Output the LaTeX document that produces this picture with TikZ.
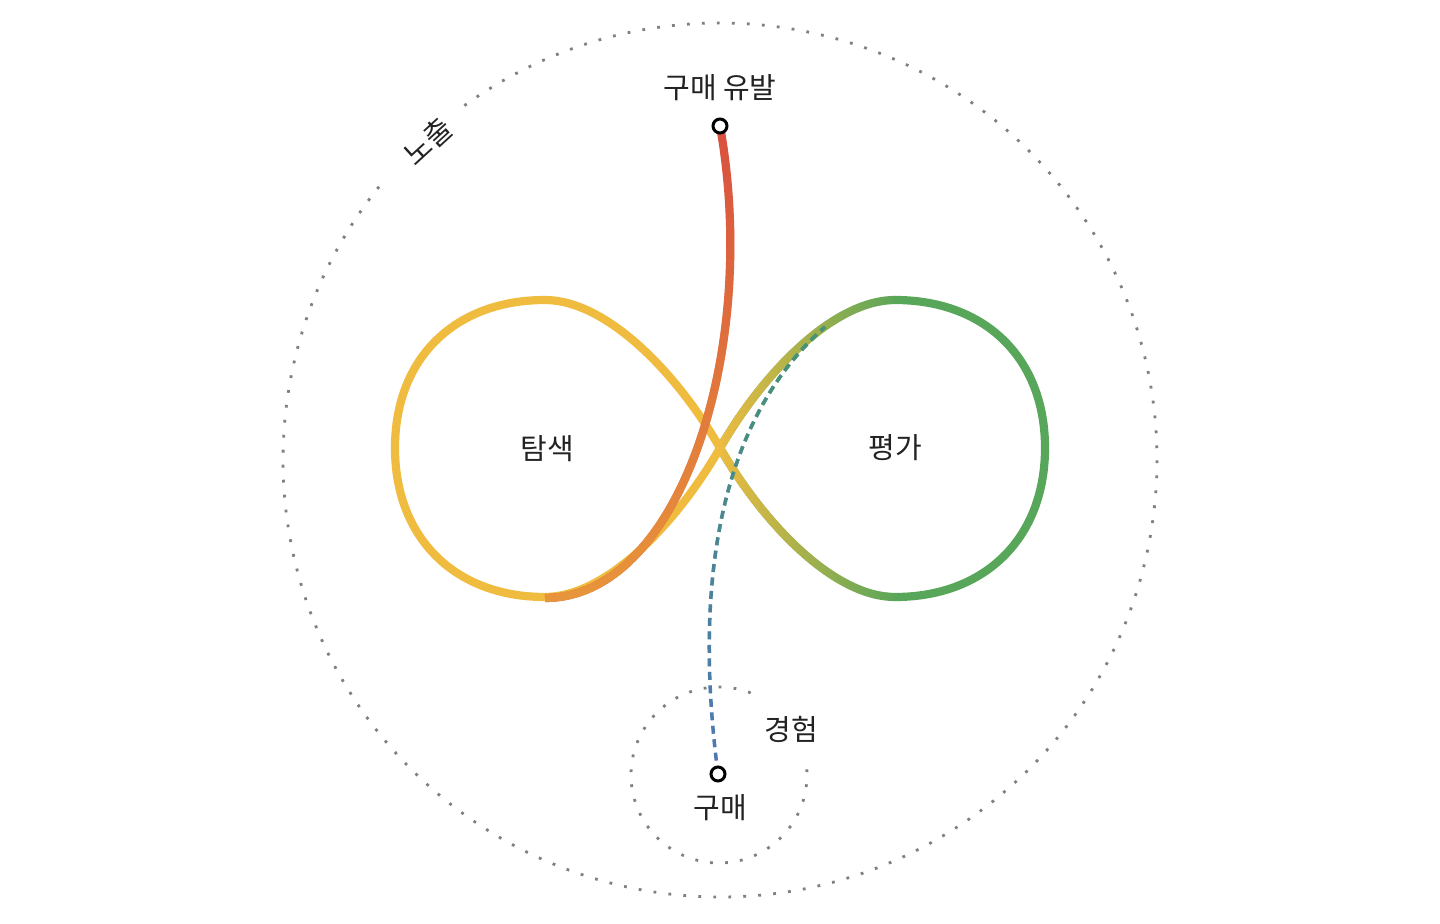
\documentclass[tikz,border=0pt]{standalone}
\usepackage{fontspec}
\setmainfont{Noto Sans CJK KR}
\usetikzlibrary{fadings}
\definecolor{amarillo}{HTML}{F0BC40}
\definecolor{verde}{HTML}{57A65A}
\definecolor{rojo}{HTML}{D95040}
\definecolor{naranja}{HTML}{E8963A}
\definecolor{azul}{HTML}{5076B8}
\definecolor{verdeazul}{HTML}{46966E}
\definecolor{gris}{HTML}{808080}
\definecolor{texto}{HTML}{222222}
\tikzfading[name=fadeverde, left color=transparent!0, middle color=transparent!77, right color=transparent!100]
\tikzfading[name=fadenaranja, top color=transparent!100, middle color=transparent!88, bottom color=transparent!0]
\tikzfading[name=fadetraza, top color=transparent!0, middle color=transparent!80, bottom color=transparent!100]
\tikzstyle{lazo} = [line width=4.1pt, line cap=round, line join=round]
\tikzstyle{orbita} = [draw=gris, line width=1.4pt, dash pattern=on 1.4pt off 6.1pt]
\tikzstyle{traza} = [line width=1.75pt, dash pattern=on 4pt off 2.75pt]
\tikzstyle{etiqueta} = [text=texto, font=\fontsize{14.5}{16}\selectfont, inner sep=0pt]
\tikzstyle{punto} = [circle, draw=black, fill=white, line width=1.5pt, minimum size=7pt, inner sep=0pt]

\begin{document}
\begin{tikzpicture}[x=0.5pt, y=-0.5pt]
	\useasboundingbox (0,0) rectangle (1440,924);
	% orbitas punteadas
	\draw[orbita] (720,460) ++(-125.8:437) arc[start angle=-125.8, end angle=220.3, radius=437];
	\draw[orbita] (719,775) ++(-3.7:88) arc[start angle=-3.7, end angle=297.7, radius=88];
	% lazo derecho
	\coordinate (cruce) at (720,448);
	\draw[lazo, draw=verde] (cruce) .. controls (765,370) and (835,300) .. (895,300)
		.. controls (985,300) and (1045,358) .. (1045,448)
		.. controls (1045,538) and (985,597) .. (895,597)
		.. controls (835,597) and (765,526) .. (cruce);
	\draw[lazo, draw=amarillo, path fading=fadeverde] (cruce) .. controls (765,370) and (835,300) .. (895,300)
		(cruce) .. controls (765,526) and (835,597) .. (895,597);
	% lazo izquierdo
	\draw[lazo, draw=amarillo] (cruce) .. controls (675,370) and (605,300) .. (545,300)
		.. controls (455,300) and (395,358) .. (395,448)
		.. controls (395,538) and (455,597) .. (545,597)
		.. controls (605,597) and (675,526) .. (cruce);
	% camino de compra
	\coordinate (cinduce) at (720,126);
	\coordinate (finduce) at (545,598);
	\draw[lazo, line cap=butt, draw=rojo] (cinduce) .. controls (760,350) and (680,598) .. (finduce);
	\draw[lazo, line cap=butt, draw=naranja, path fading=fadenaranja] (cinduce) .. controls (760,350) and (680,598) .. (finduce);
	\coordinate (ccompra) at (718,774);
	\coordinate (fcompra) at (825,327);
	\draw[traza, draw=azul] (ccompra) .. controls (690,560) and (730,410) .. (fcompra);
	\draw[traza, draw=verdeazul, path fading=fadetraza] (ccompra) .. controls (690,560) and (730,410) .. (fcompra);
	\node[punto] (pinduce) at (cinduce) {};
	\node[punto] (pcompra) at (ccompra) {};
	% etiquetas
	\node[etiqueta] (induce) at (720,88) {구매 유발};
	\node[etiqueta] (compra) at (720,808) {구매};
	\node[etiqueta] (busqueda) at (547,449) {탐색};
	\node[etiqueta] (evaluacion) at (895,448) {평가};
	\node[etiqueta] (experiencia) at (791,729) {경험};
	\node[etiqueta, rotate=42.5] (exposicion) at (428,141) {노출};
\end{tikzpicture}
\end{document}
